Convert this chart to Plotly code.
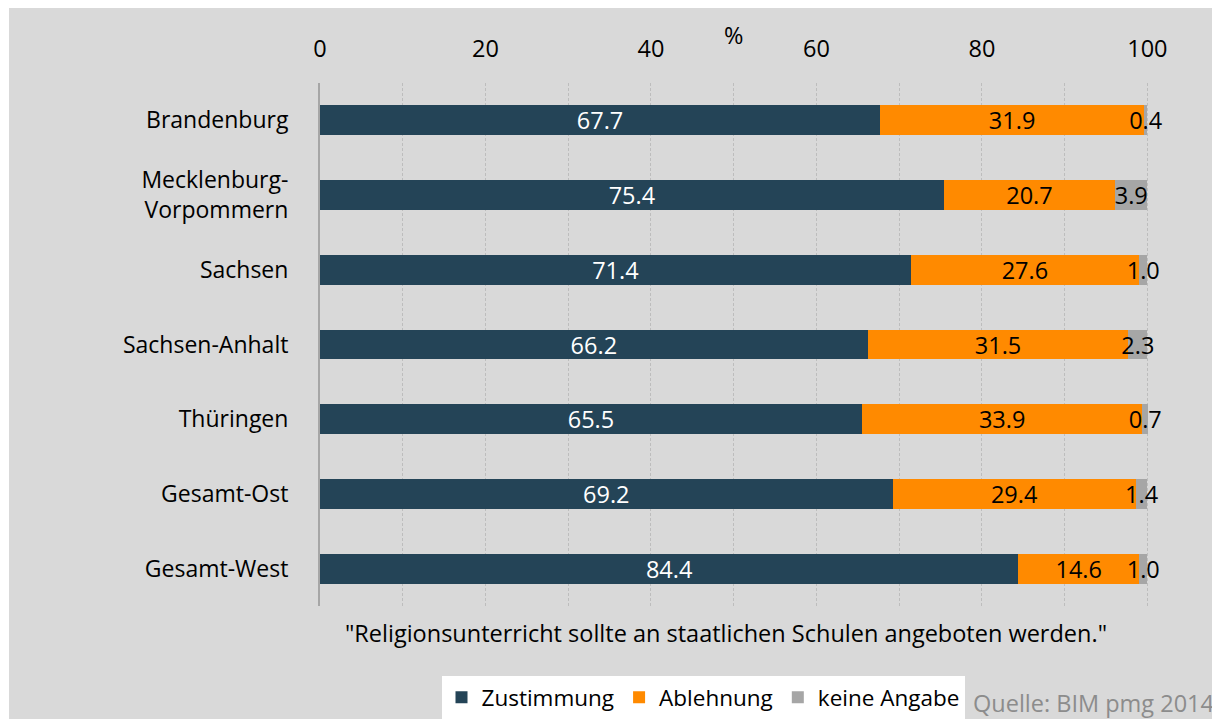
import plotly.graph_objects as go

categories = ["Brandenburg", "Mecklenburg-<br>Vorpommern", "Sachsen", "Sachsen-Anhalt",
              "Thüringen", "Gesamt-Ost", "Gesamt-West"]
zustimmung = [67.7, 75.4, 71.4, 66.2, 65.5, 69.2, 84.4]
ablehnung = [31.9, 20.7, 27.6, 31.5, 33.9, 29.4, 14.6]
keine_angabe = [0.4, 3.9, 1.0, 2.3, 0.7, 1.4, 1.0]
x_ticks = [0, 20, 40, 60, 80, 100]

FONT = "Open Sans"
FS = 23.5
OFF = 8  # page body margin
W, H = 1220, 719
XMAX = 100.2
# target screen positions of the plot area
SL, SR, ST, SB = 320, 1147 + round(0.2 * 8.27), 83, 606
ML, MT = SL - OFF, ST - OFF
MR = W - (SR - OFF)
MB = H - (SB - OFF)
PW, PH = W - ML - MR, H - MT - MB

def sx(px):  # screen px -> paper x
    return (px - OFF - ML) / PW

def sy(py):  # screen py -> paper y
    return (H - MB - (py - OFF)) / PH

fig = go.Figure()
series = [
    ("Zustimmung", zustimmung, "#244457", "white"),
    ("Ablehnung", ablehnung, "#FF8A00", "black"),
    ("keine Angabe", keine_angabe, "#A6A6A6", "black"),
]
for name, vals, color, tcolor in series:
    fig.add_trace(go.Bar(
        name=name, y=categories, x=vals, orientation="h",
        marker=dict(color=color, line=dict(width=0)),
        text=[f"{v:.1f}" for v in vals], textposition="inside",
        insidetextanchor="middle", constraintext="none", textangle=0,
        textfont=dict(family=FONT, size=FS, color=tcolor),
        width=0.4, cliponaxis=False,
    ))

fig.update_layout(
    width=W, height=H, barmode="stack",
    margin=dict(l=ML, r=MR, t=MT, b=MB, pad=0, autoexpand=False),
    paper_bgcolor="white", plot_bgcolor="rgba(0,0,0,0)",
    font=dict(family=FONT, size=FS, color="black"),
    showlegend=True,
    legend=dict(orientation="h", xref="container", yref="container",
                x=(703 - OFF) / W, xanchor="center",
                y=1 - (676 - OFF) / H, yanchor="top", bgcolor="white",
                font=dict(family=FONT, size=22.5, color="black"),
                traceorder="normal", itemsizing="constant", itemwidth=30),
    xaxis=dict(side="top", range=[0, XMAX], tickvals=x_ticks, automargin=False,
               showgrid=True, gridcolor="#BDBDBD", griddash="3px,2px", gridwidth=1,
               minor=dict(dtick=10, showgrid=True, gridcolor="#BDBDBD", griddash="3px,2px"),
               zeroline=False, showline=False, ticks="", ticklabelstandoff=20,
               tickfont=dict(family=FONT, size=FS, color="black")),
    yaxis=dict(autorange="reversed", showgrid=False, zeroline=False, automargin=False,
               showline=True, linecolor="#A6A6A6", linewidth=2, ticks="",
               ticklabelstandoff=25,
               tickfont=dict(family=FONT, size=23, color="black")),
    shapes=[dict(type="rect", xref="paper", yref="paper", layer="below",
                 x0=sx(9), x1=sx(W + 20),
                 y0=sy(H + 20), y1=sy(5),
                 fillcolor="#D9D9D9", line=dict(width=0))],
    annotations=[
        dict(text="%", x=50, xref="x", y=sy(35), yref="paper",
             xanchor="center", yanchor="middle",
             showarrow=False, font=dict(family=FONT, size=FS)),
        dict(text='"Religionsunterricht sollte an staatlichen Schulen angeboten werden."',
             x=sx(726), xref="paper", y=sy(633), yref="paper",
             xanchor="center", yanchor="middle",
             showarrow=False, font=dict(family=FONT, size=FS)),
        dict(text="Quelle: BIM pmg 2014", x=sx(1093), xref="paper",
             y=sy(703), yref="paper", xanchor="center", yanchor="middle",
             showarrow=False, font=dict(family=FONT, size=FS, color="#8C8C8C")),
    ],
)

fig.write_html("out.html")
